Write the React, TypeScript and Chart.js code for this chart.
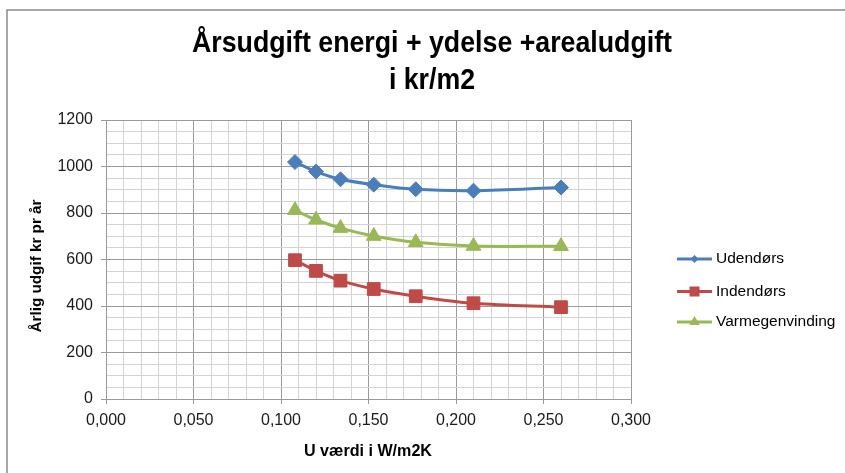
import React, { useEffect, useRef } from "react";
import { Chart, registerables } from "chart.js";

Chart.register(...registerables);

// U-values (W/m2K) and annual cost per series (kr/m2)
const uValues = [0.108, 0.12, 0.134, 0.153, 0.177, 0.21, 0.26];
const udendors = [1019, 978, 945, 922, 902, 896, 910];
const indendors = [597, 551, 509, 473, 442, 412, 395];
const varmegenvinding = [812, 771, 735, 701, 674, 658, 657];

const seriesNames = ["Udendørs", "Indendørs", "Varmegenvinding"];
const seriesColors = ["#4a7ebb", "#be4b48", "#98b954"];

const xMajorTicks = [0, 0.05, 0.1, 0.15, 0.2, 0.25, 0.3];
const yMajorTicks = [0, 200, 400, 600, 800, 1000, 1200];
const xMinorStep = 0.01;
const yMinorStep = 50;

const chartTitle = ["Årsudgift energi + ydelse +arealudgift", "i kr/m2"];
const xAxisTitle = "U værdi i W/m2K";
const yAxisTitle = "Årlig udgif kr pr år";

const FONT = '"Liberation Sans", Arial, sans-serif';
const W = 845;
const H = 473;

function gridValues(majors: number[], step: number): number[] {
  const lo = majors[0];
  const hi = majors[majors.length - 1];
  const n = Math.round((hi - lo) / step);
  const out: number[] = [];
  for (let i = 0; i <= n; i++) out.push(Math.round((lo + i * step) * 1e6) / 1e6);
  return out;
}

function isMajor(v: number, majors: number[]): boolean {
  return majors.some((m) => Math.abs(m - v) < 1e-9);
}

const xGrid = gridValues(xMajorTicks, xMinorStep);
const yGrid = gridValues(yMajorTicks, yMinorStep);

const MAJOR_GRID = "#9a9a9a";
const MINOR_GRID = "#d3d3d3";

function fillFitted(
  ctx: CanvasRenderingContext2D,
  text: string,
  x: number,
  y: number,
  sx: number
) {
  ctx.save();
  ctx.translate(x, y);
  ctx.scale(sx, 1);
  ctx.fillText(text, 0, 0);
  ctx.restore();
}

function drawMarker(
  ctx: CanvasRenderingContext2D,
  kind: number,
  x: number,
  y: number
) {
  ctx.beginPath();
  if (kind === 0) {
    const r = 4;
    ctx.moveTo(x, y - r);
    ctx.lineTo(x + r, y);
    ctx.lineTo(x, y + r);
    ctx.lineTo(x - r, y);
  } else if (kind === 1) {
    ctx.rect(x - 5, y - 5, 10, 10);
  } else {
    const r = 6;
    ctx.moveTo(x, y - r);
    ctx.lineTo(x + r * 0.866, y + r / 2);
    ctx.lineTo(x - r * 0.866, y + r / 2);
  }
  ctx.closePath();
  ctx.fill();
}

const decorations = {
  id: "decorations",
  afterDraw(chart: Chart) {
    const ctx = chart.ctx;
    ctx.save();

    // outer frame
    ctx.strokeStyle = "#8a8a8a";
    ctx.lineWidth = 1.5;
    ctx.beginPath();
    ctx.moveTo(7, H);
    ctx.lineTo(7, 10);
    ctx.lineTo(W, 10);
    ctx.stroke();

    ctx.fillStyle = "#000";
    ctx.textAlign = "center";

    // chart title
    ctx.font = `bold 30px ${FONT}`;
    ctx.textBaseline = "alphabetic";
    const tw = ctx.measureText(chartTitle[0]).width;
    const tsx = 480 / tw;
    fillFitted(ctx, chartTitle[0], 432, 52, tsx);
    fillFitted(ctx, chartTitle[1], 432, 88.5, tsx);

    // axis titles
    ctx.textBaseline = "middle";
    ctx.font = `bold 16px ${FONT}`;
    const xw = ctx.measureText(xAxisTitle).width;
    fillFitted(ctx, xAxisTitle, 368, 452, 128 / xw);

    ctx.font = `bold 15px ${FONT}`;
    const yw = ctx.measureText(yAxisTitle).width;
    ctx.save();
    ctx.translate(37, 266);
    ctx.rotate(-Math.PI / 2);
    fillFitted(ctx, yAxisTitle, 0, 0, 133 / yw);
    ctx.restore();

    // legend
    const legendY = [259, 291.5, 322];
    ctx.textAlign = "left";
    ctx.font = `15.5px ${FONT}`;
    seriesNames.forEach((name, i) => {
      const y = legendY[i];
      ctx.strokeStyle = seriesColors[i];
      ctx.fillStyle = seriesColors[i];
      ctx.lineWidth = 3;
      ctx.beginPath();
      ctx.moveTo(677, y);
      ctx.lineTo(712, y);
      ctx.stroke();
      drawMarker(ctx, i, 694.5, y);
      ctx.fillStyle = "#000";
      ctx.fillText(name, 716, y);
    });

    ctx.restore();
  },
};

function series(label: string, values: number[], color: string, pointStyle: string, radius: number) {
  return {
    label,
    data: uValues.map((x, i) => ({ x, y: values[i] })),
    borderColor: color,
    backgroundColor: color,
    borderWidth: 3,
    pointStyle,
    pointRadius: radius,
    pointBorderWidth: 1,
    pointBackgroundColor: color,
    pointBorderColor: color,
    tension: 0.35,
    showLine: true,
  };
}

export default function App() {
  const canvasRef = useRef<HTMLCanvasElement | null>(null);

  useEffect(() => {
    document.body.style.margin = "0";
    const canvas = canvasRef.current;
    if (!canvas) return;

    const tickFont = { family: FONT, size: 16 };

    const chart = new Chart(canvas, {
      type: "line",
      data: {
        datasets: [
          series(seriesNames[0], udendors, seriesColors[0], "rectRot", 7.5),
          series(seriesNames[1], indendors, seriesColors[1], "rect", 9),
          series(seriesNames[2], varmegenvinding, seriesColors[2], "triangle", 8.5),
        ] as any,
      },
      options: {
        responsive: false,
        animation: false,
        devicePixelRatio: 1,
        layout: { padding: { top: 120, right: W - 631, left: 0, bottom: 0 } },
        plugins: {
          legend: { display: false },
          title: { display: false },
          tooltip: { enabled: false },
        },
        scales: {
          x: {
            type: "linear",
            min: xMajorTicks[0],
            max: xMajorTicks[xMajorTicks.length - 1],
            afterBuildTicks: (s: any) => {
              s.ticks = xGrid.map((v) => ({ value: v }));
            },
            afterFit: (s: any) => {
              s.height = H - 399;
            },
            ticks: {
              autoSkip: false,
              maxRotation: 0,
              minRotation: 0,
              padding: 7,
              color: "#1a1a1a",
              font: tickFont,
              callback: (v: any) =>
                isMajor(Number(v), xMajorTicks) ? Number(v).toFixed(3).replace(".", ",") : "",
            },
            grid: {
              color: (c: any) => (isMajor(c.tick.value, xMajorTicks) ? MAJOR_GRID : MINOR_GRID),
              tickColor: (c: any) =>
                isMajor(c.tick.value, xMajorTicks) ? MAJOR_GRID : "rgba(0,0,0,0)",
              tickLength: 5,
              lineWidth: 1,
            },
            border: { color: MAJOR_GRID, width: 1 },
          },
          y: {
            type: "linear",
            min: yMajorTicks[0],
            max: yMajorTicks[yMajorTicks.length - 1],
            afterBuildTicks: (s: any) => {
              s.ticks = yGrid.map((v) => ({ value: v }));
            },
            afterFit: (s: any) => {
              s.width = 106;
            },
            ticks: {
              autoSkip: false,
              padding: 8,
              color: "#1a1a1a",
              font: tickFont,
              callback: (v: any) => (isMajor(Number(v), yMajorTicks) ? String(v) : ""),
            },
            grid: {
              color: (c: any) => (isMajor(c.tick.value, yMajorTicks) ? MAJOR_GRID : MINOR_GRID),
              tickColor: (c: any) =>
                isMajor(c.tick.value, yMajorTicks) ? MAJOR_GRID : "rgba(0,0,0,0)",
              tickLength: 5,
              lineWidth: 1,
            },
            border: { color: MAJOR_GRID, width: 1 },
          },
        },
      } as any,
      plugins: [decorations],
    });

    return () => chart.destroy();
  }, []);

  return (
    <div style={{ position: "absolute", left: 0, top: 0, width: W, height: H, background: "#fff" }}>
      <canvas ref={canvasRef} width={W} height={H} style={{ display: "block" }} />
    </div>
  );
}
